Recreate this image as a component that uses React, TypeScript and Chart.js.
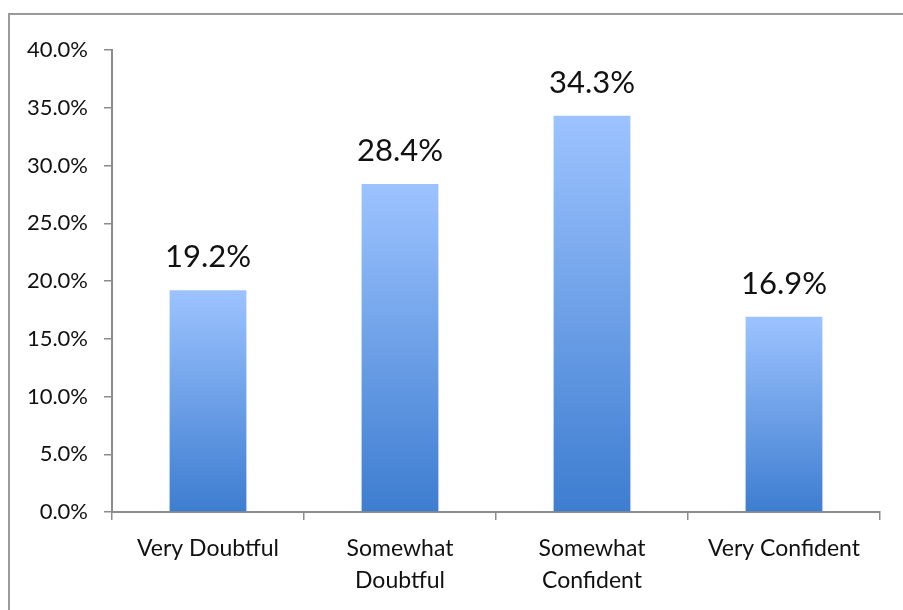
import React, { useEffect, useRef } from "react";
import { Chart, registerables } from "chart.js";

Chart.register(...registerables);

const categories: (string | string[])[] = [
  "Very Doubtful",
  ["Somewhat", "Doubtful"],
  ["Somewhat", "Confident"],
  "Very Confident",
];
const values = [19.2, 28.4, 34.3, 16.9];
const valueLabels = ["19.2%", "28.4%", "34.3%", "16.9%"];
const yMin = 0;
const yMax = 40;
const yStep = 5;

const FONT = "Lato, 'Open Sans', sans-serif";

const framePlugin = {
  id: "frame",
  beforeDraw(chart: any) {
    const ctx = chart.ctx;
    ctx.save();
    ctx.fillStyle = "#ffffff";
    ctx.fillRect(0, 0, chart.width, chart.height);
    ctx.strokeStyle = "#9a9a9a";
    ctx.lineWidth = 2;
    ctx.beginPath();
    ctx.moveTo(9, chart.height + 5);
    ctx.lineTo(9, 14);
    ctx.lineTo(chart.width + 5, 14);
    ctx.stroke();
    ctx.restore();
  },
};

const labelPlugin = {
  id: "valueLabels",
  afterDatasetsDraw(chart: any) {
    const ctx = chart.ctx;
    const meta = chart.getDatasetMeta(0);
    ctx.save();
    ctx.fillStyle = "#111111";
    ctx.font = `31px ${FONT}`;
    ctx.textAlign = "center";
    ctx.textBaseline = "alphabetic";
    meta.data.forEach((bar: any, i: number) => {
      ctx.fillText(valueLabels[i], bar.x, bar.y - 23);
    });
    ctx.restore();
  },
};

export default function App() {
  const ref = useRef<HTMLCanvasElement | null>(null);

  useEffect(() => {
    const canvas = ref.current!;
    const chart = new Chart(canvas, {
      type: "bar",
      data: {
        labels: categories,
        datasets: [
          {
            data: values,
            backgroundColor: (c: any) => {
              const area = c.chart.chartArea;
              const ys = c.chart.scales && c.chart.scales.y;
              if (!area || !ys || c.raw == null) return "#6a9de8";
              const top = ys.getPixelForValue(c.raw);
              const g = c.chart.ctx.createLinearGradient(0, top, 0, area.bottom);
              g.addColorStop(0, "#9dc3ff");
              g.addColorStop(1, "#3d7dd0");
              return g;
            },
            borderWidth: 0,
            barPercentage: 0.4,
            categoryPercentage: 1,
          },
        ],
      },
      options: {
        animation: false,
        responsive: false,
        maintainAspectRatio: false,
        layout: { padding: { left: 0, top: 50, right: 23, bottom: 0 } },
        plugins: { legend: { display: false }, tooltip: { enabled: false } },
        scales: {
          x: {
            grid: {
              display: true,
              drawOnChartArea: false,
              drawTicks: true,
              tickLength: 8,
              color: "#8c8c8c",
              lineWidth: 1.5,
              offset: true,
            },
            border: { color: "#8c8c8c", width: 2 },
            ticks: {
              color: "#111111",
              font: { family: FONT, size: 23, lineHeight: 1.4 },
              padding: 12,
              maxRotation: 0,
            },
            afterFit: (s: any) => {
              s.height = 98;
            },
          },
          y: {
            min: yMin,
            max: yMax,
            grid: {
              display: true,
              drawOnChartArea: false,
              drawTicks: true,
              tickLength: 8,
              color: "#8c8c8c",
              lineWidth: 1.5,
            },
            border: { color: "#8c8c8c", width: 2 },
            ticks: {
              stepSize: yStep,
              color: "#111111",
              font: { family: FONT, size: 22 },
              padding: 16,
              callback: (v: any) => Number(v).toFixed(1) + "%",
            },
            afterFit: (s: any) => {
              s.width = 112;
            },
          },
        },
      },
      plugins: [framePlugin, labelPlugin],
    });
    return () => chart.destroy();
  }, []);

  return (
    <div style={{ position: "fixed", left: 0, top: 0, width: 903, height: 610 }}>
      <canvas ref={ref} width={903} height={610} style={{ display: "block" }} />
    </div>
  );
}
